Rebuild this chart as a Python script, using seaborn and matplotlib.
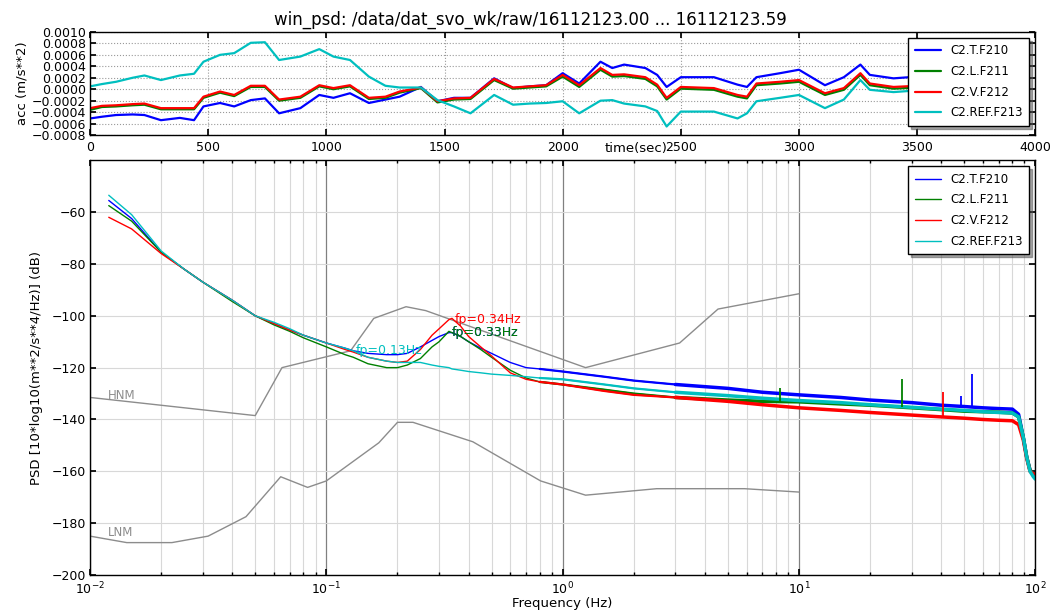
import numpy as np
import pandas as pd
import matplotlib
matplotlib.use("Agg")
import matplotlib.pyplot as plt
from matplotlib.ticker import FuncFormatter, MultipleLocator, LogLocator, NullFormatter
import seaborn as sns

# ---------------- data ----------------
channels = ["C2.T.F210", "C2.L.F211", "C2.V.F212", "C2.REF.F213"]
colors = ["#0000ff", "#008000", "#ff0000", "#00bfbf"]

# time series (sec, m/s**2)
time_s = [0, 50, 110, 180, 230, 300, 380, 440, 480, 550, 610, 680, 740, 800, 890, 970,
          1030, 1100, 1180, 1250, 1310, 1400, 1470, 1540, 1610, 1710, 1790, 1860, 1930,
          2000, 2070, 2160, 2210, 2260, 2350, 2400, 2440, 2500, 2640, 2740, 2780, 2820,
          2920, 3000, 3110, 3190, 3260, 3300, 3400, 3500, 3600]
acc_T = [-0.00051, -0.00048, -0.00045, -0.00044, -0.00045, -0.00054, -0.00050, -0.00054,
         -0.00030, -0.00024, -0.00030, -0.00019, -0.00016, -0.00042, -0.00033, -0.00010,
         -0.00015, -0.00007, -0.00024, -0.00018, -0.00013, 0.00004, -0.00021, -0.00015,
         -0.00015, 0.00019, 0.00002, 0.00005, 0.00007, 0.00028, 0.00010, 0.00048, 0.00037,
         0.00043, 0.00037, 0.00025, 0.00004, 0.00021, 0.00021, 0.00008, 0.00004, 0.00021,
         0.00028, 0.00034, 0.00007, 0.00021, 0.00043, 0.00025, 0.00019, 0.00022, 0.00025]
acc_L = [-0.00036, -0.00031, -0.00030, -0.00028, -0.00027, -0.00035, -0.00035, -0.00035,
         -0.00015, -0.00006, -0.00012, 0.00004, 0.00004, -0.00020, -0.00015, 0.00005,
         0.00000, 0.00005, -0.00017, -0.00015, -0.00006, 0.00002, -0.00023, -0.00018,
         -0.00017, 0.00016, 0.00001, 0.00003, 0.00005, 0.00022, 0.00004, 0.00034, 0.00022,
         0.00023, 0.00018, 0.00005, -0.00018, 0.00001, -0.00001, -0.00013, -0.00016, 0.00007,
         0.00010, 0.00013, -0.00010, -0.00001, 0.00025, 0.00007, 0.00001, 0.00003, 0.00005]
acc_V = [-0.00033, -0.00029, -0.00028, -0.00026, -0.00025, -0.00033, -0.00033, -0.00033,
         -0.00013, -0.00004, -0.00010, 0.00006, 0.00006, -0.00018, -0.00013, 0.00007,
         0.00002, 0.00007, -0.00015, -0.00013, -0.00004, 0.00003, -0.00021, -0.00016,
         -0.00015, 0.00018, 0.00003, 0.00005, 0.00007, 0.00025, 0.00007, 0.00037, 0.00025,
         0.00026, 0.00021, 0.00008, -0.00015, 0.00004, 0.00002, -0.00010, -0.00013, 0.00010,
         0.00013, 0.00016, -0.00007, 0.00002, 0.00028, 0.00010, 0.00004, 0.00006, 0.00008]
acc_REF = [0.00005, 0.00009, 0.00013, 0.00020, 0.00024, 0.00016, 0.00024, 0.00027,
           0.00048, 0.00060, 0.00063, 0.00081, 0.00082, 0.00051, 0.00057, 0.00070,
           0.00057, 0.00051, 0.00022, 0.00006, 0.00003, 0.00003, -0.00019, -0.00030,
           -0.00042, -0.00010, -0.00027, -0.00025, -0.00024, -0.00021, -0.00042, -0.00020,
           -0.00019, -0.00025, -0.00030, -0.00038, -0.00065, -0.00039, -0.00039, -0.00051,
           -0.00042, -0.00021, -0.00015, -0.00010, -0.00033, -0.00018, 0.00016, -0.00001,
           -0.00005, -0.00002, 0.00000]

# PSD (Hz, dB)
freq_hz = [0.012, 0.015, 0.02, 0.025, 0.03, 0.04, 0.05, 0.06, 0.07, 0.08, 0.1, 0.12, 0.13,
           0.15, 0.18, 0.2, 0.22, 0.25, 0.28, 0.3, 0.33, 0.34, 0.37, 0.4, 0.45, 0.5, 0.6,
           0.7, 0.8, 1.0, 1.5, 2.0, 3.0, 5.0, 7.0, 10.0, 15.0, 20.0, 30.0, 40.0, 50.0, 60.0,
           70.0, 80.0, 85.0, 89.0, 92.0, 95.0, 98.0, 100.0]
psd_T = [-55.5, -62.5, -75.5, -82, -87, -94, -100, -103, -105.5, -107.5, -110.5, -112.5,
         -113.5, -114.5, -115, -115, -114.5, -112, -109.5, -108, -106.5, -106.5, -108, -110,
         -112.5, -114.5, -118, -120, -120.5, -121.5, -123.5, -125, -126.5, -128, -129.5,
         -130.5, -131.5, -132.5, -133.5, -134.5, -135, -135.5, -135.8, -136, -138, -147,
         -154.5, -159.5, -161, -161]
psd_L = [-57.5, -63.5, -75.5, -82, -87, -94.5, -100, -103.5, -106, -108.5, -112, -115,
         -116, -118.5, -120, -120, -119, -116.5, -112, -110, -106, -106.5, -108, -110,
         -113, -116, -121, -124, -125.5, -126.5, -128.5, -130, -131.5, -132.5, -133,
         -133.2, -134, -134.5, -135.5, -136.2, -136.8, -137, -137.2, -137.5, -139, -147,
         -154.5, -159.5, -161, -161]
psd_V = [-62, -66.5, -76, -82, -87, -94, -100, -103, -105.5, -107.5, -110.5, -113, -114,
         -116, -117.5, -118, -117.5, -113, -107.5, -105, -101.5, -101, -104, -108, -112,
         -115.5, -122, -124.5, -125.5, -126.5, -129, -130.5, -131.5, -133, -134.3, -135.5,
         -136.5, -137.3, -138.3, -139, -139.5, -140, -140.3, -140.5, -142, -148, -155,
         -160, -161, -161]
psd_REF = [-53.5, -61, -75, -82, -87, -94, -100, -102.5, -105, -107.5, -110.5, -112.5,
           -113.5, -116, -117.5, -118, -118, -118, -119, -119.5, -120, -120.5, -121,
           -121.5, -122, -122.5, -123, -123.5, -124, -124.5, -126.5, -128, -129.5, -130.8,
           -131.8, -132.7, -133.5, -134.3, -135.3, -136, -136.5, -137, -137.3, -137.5,
           -139, -147, -154.5, -160, -162, -163]

# narrow spectral lines
spike_chan = ["C2.L.F211", "C2.L.F211", "C2.V.F212", "C2.T.F210", "C2.T.F210"]
spike_freq = [8.3, 27.4, 40.8, 48.6, 54.2]
spike_top = [-128.0, -124.5, -129.5, -131.0, -122.3]

# peak annotations
peak_chan = ["C2.T.F210", "C2.L.F211", "C2.V.F212", "C2.REF.F213"]
peak_freq = [0.33, 0.33, 0.34, 0.13]
peak_db = [-106.5, -106.5, -101.5, -113.5]

# Peterson noise models
hnm_freq = [0.01, 0.05, 0.0649, 0.1266, 0.1587, 0.2174, 0.2632, 1.25, 3.125, 4.545, 10.0]
hnm_db = [-131.5, -138.5, -120.0, -113.5, -101.0, -96.5, -98.0, -120.0, -110.5, -97.4, -91.5]
lnm_freq = [0.01, 0.0143, 0.0222, 0.0316, 0.0457, 0.0641, 0.0833, 0.1, 0.1667, 0.2,
            0.2326, 0.4167, 0.8065, 1.25, 2.5, 5.882, 10.0]
lnm_db = [-185.0, -187.5, -187.5, -185.0, -177.5, -162.1, -166.2, -163.7, -149.0, -141.1,
          -141.1, -148.6, -163.7, -169.2, -166.7, -166.7, -168.0]

title = "win_psd: /data/dat_svo_wk/raw/16112123.00 ... 16112123.59"

# ---------------- style ----------------
sns.set_theme(style="white")
plt.rcParams.update({
    "font.family": ["DejaVu Sans"],
    "axes.edgecolor": "black",
    "axes.linewidth": 1.0,
    "xtick.direction": "in", "ytick.direction": "in",
    "xtick.top": True, "ytick.right": True,
    "xtick.bottom": True, "ytick.left": True,
    "xtick.color": "black", "ytick.color": "black",
    "xtick.labelsize": 9, "ytick.labelsize": 9,
    "xtick.major.size": 4, "ytick.major.size": 4,
    "xtick.minor.size": 2, "ytick.minor.size": 2,
    "xtick.major.pad": 4, "ytick.major.pad": 3,
    "axes.labelsize": 9.5,
    "axes.labelcolor": "black",
    "text.color": "black",
})

fig = plt.figure(figsize=(10.52, 6.14), dpi=100)
fig.patch.set_facecolor("white")
ax1 = fig.add_axes([0.0856, 0.780, 0.8985, 0.168])
ax2 = fig.add_axes([0.0856, 0.0635, 0.8985, 0.6755])

legend_kw = dict(loc="upper right", fontsize=8.5, shadow=True, fancybox=False,
                 edgecolor="black", framealpha=1, labelspacing=0.65, borderpad=0.55,
                 handlelength=2.2)

# ---------------- top: time series ----------------
acc_df = pd.DataFrame({
    "t": time_s * 4,
    "acc": acc_T + acc_L + acc_V + acc_REF,
    "chan": sum([[c] * len(time_s) for c in channels], []),
})
sns.lineplot(data=acc_df, x="t", y="acc", hue="chan", hue_order=channels,
             palette=colors, lw=1.6, estimator=None, sort=False, ax=ax1)
ax1.set_xlim(0, 4000)
ax1.set_ylim(-0.0008, 0.0010)
ax1.xaxis.set_major_locator(MultipleLocator(500))
ax1.yaxis.set_major_locator(MultipleLocator(0.0002))
ax1.yaxis.set_major_formatter(FuncFormatter(lambda v, p: ("%.4f" % v).replace("-", "\u2212")))
ax1.grid(True, ls=":", color="#999999", lw=0.8)
ax1.set_ylabel("acc (m/s**2)", labelpad=2)
ax1.set_xlabel("time(sec)")
ax1.xaxis.set_label_coords(0.578, -0.065)
leg = ax1.get_legend()
h1 = leg.legend_handles
l1 = [t.get_text() for t in leg.get_texts()]
ax1.legend(h1, l1, **legend_kw)
fig.text(0.504, 0.960, title, ha="center", va="baseline", fontsize=12)

# ---------------- bottom: PSD ----------------
ax2.set_xscale("log")
psd_df = pd.DataFrame({
    "f": freq_hz * 4,
    "db": psd_T + psd_L + psd_V + psd_REF,
    "chan": sum([[c] * len(freq_hz) for c in channels], []),
})
# noise models
sns.lineplot(x=hnm_freq, y=hnm_db, color="#8c8c8c", lw=1.0, estimator=None, sort=False, ax=ax2)
sns.lineplot(x=lnm_freq, y=lnm_db, color="#8c8c8c", lw=1.0, estimator=None, sort=False, ax=ax2)

sns.lineplot(data=psd_df, x="f", y="db", hue="chan", hue_order=channels,
             palette=colors, lw=1.0, estimator=None, sort=False, ax=ax2)
leg2 = ax2.get_legend()
h2 = leg2.legend_handles
l2 = [t.get_text() for t in leg2.get_texts()]
# the noisy spectra look thicker towards high frequency
sns.lineplot(data=psd_df[(psd_df["f"] >= 0.8) & (psd_df["f"] <= 3.0)], x="f", y="db",
             hue="chan", hue_order=channels, palette=colors, lw=1.6, estimator=None,
             sort=False, ax=ax2, legend=False, solid_capstyle="round")
sns.lineplot(data=psd_df[psd_df["f"] >= 3.0], x="f", y="db", hue="chan", hue_order=channels,
             palette=colors, lw=2.5, estimator=None, sort=False, ax=ax2, legend=False,
             solid_capstyle="round")

series = {"C2.T.F210": psd_T, "C2.L.F211": psd_L, "C2.V.F212": psd_V, "C2.REF.F213": psd_REF}
cmap = dict(zip(channels, colors))
lf = np.log10(freq_hz)
for c, f, top in zip(spike_chan, spike_freq, spike_top):
    base = np.interp(np.log10(f), lf, series[c])
    ax2.vlines(f, base, top, color=cmap[c], lw=1.3)

for c, f, d in zip(peak_chan, peak_freq, peak_db):
    ax2.annotate("fp=%.2fHz" % f, (f, d), xytext=(2, 0), textcoords="offset points",
                 color=cmap[c], fontsize=9, va="center", ha="left")

ax2.text(0.0119, -130.7, "HNM", color="#8c8c8c", fontsize=8.5, va="center", ha="left")
ax2.text(0.0119, -183.7, "LNM", color="#8c8c8c", fontsize=8.5, va="center", ha="left")

ax2.set_xlim(0.01, 100)
ax2.set_ylim(-200, -40)
ax2.set_yticks(list(range(-200, -59, 20)))
ax2.xaxis.set_major_locator(LogLocator(base=10, numticks=10))
ax2.xaxis.set_minor_locator(LogLocator(base=10, subs=np.arange(2, 10), numticks=100))
ax2.xaxis.set_minor_formatter(NullFormatter())
ax2.grid(True, which="major", axis="x", color="#808080", lw=0.9, ls="-")
ax2.grid(True, which="minor", axis="x", color="#d8d8d8", lw=0.8, ls="-")
ax2.grid(True, which="major", axis="y", color="#d8d8d8", lw=0.8, ls="-")
ax2.set_axisbelow(True)
ax2.set_xlabel("Frequency (Hz)", labelpad=0)
ax2.set_ylabel("PSD [10*log10(m**2/s**4/Hz)] (dB)", labelpad=6)
ax2.legend(h2, l2, **legend_kw)

fig.savefig("out.png", dpi=100, facecolor="white")
